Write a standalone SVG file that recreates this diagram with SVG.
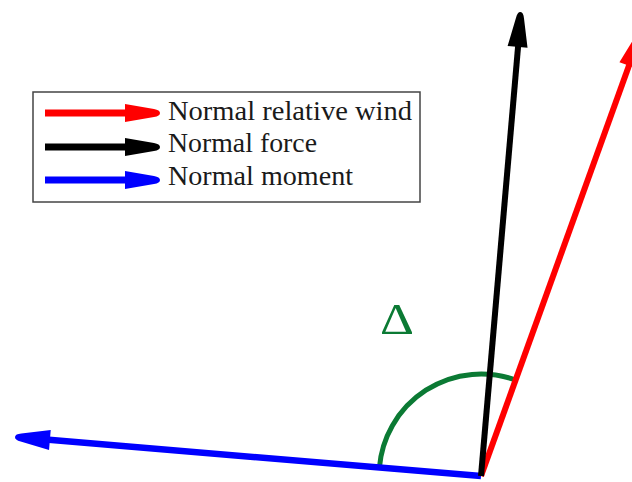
<svg xmlns="http://www.w3.org/2000/svg" width="632" height="482" viewBox="0 0 632 482">
  <style>
    .shaft { fill: none; stroke-linecap: butt; }
    .lbl { font-family: "Liberation Serif", "DejaVu Serif", serif; font-size: 28px; fill: #1a1a1a; }
    .delta { font-family: "Liberation Serif", "DejaVu Serif", serif; font-size: 45px; fill: #0b7a34; }
  </style>
  <defs>
    <path id="head" d="M -35,-10 L -6,-4 Q 0,-3 0,0 Q 0,3 -6,4 L -35,10 Z"/>
    <path id="lhead" d="M -35,-9 L -6,-4 Q 0,-3 0,0 Q 0,3 -6,4 L -35,9 Z"/>
  </defs>

  <g id="angle-arc">
    <path d="M379.4,467.5 A102,102 0 0 1 515.5,380.0" fill="none" stroke="#0b7a34" stroke-width="5"/>
  </g>
  <g id="angle-label">
    <text class="delta" x="380" y="334" textLength="34" lengthAdjust="spacingAndGlyphs">Δ</text>
  </g>

  <g id="connectors">
    <g id="normal-moment">
      <line class="shaft" x1="481" y1="476" x2="40" y2="439.1" stroke="#0000ff" stroke-width="6.5"/>
      <use href="#head" fill="#0000ff" transform="translate(15,437) rotate(184.78)"/>
    </g>
    <g id="normal-relative-wind">
      <line class="shaft" x1="481" y1="476" x2="631" y2="60" stroke="#ff0000" stroke-width="6"/>
      <use href="#head" fill="#ff0000" transform="translate(640.7,32.8) rotate(-70.2)"/>
    </g>
    <g id="normal-force">
      <line class="shaft" x1="481" y1="476" x2="518.9" y2="37" stroke="#000000" stroke-width="6"/>
      <use href="#head" fill="#000000" transform="translate(520.5,12) rotate(-85.2)"/>
    </g>
  </g>

  <g id="legend">
    <rect x="33" y="92" width="387" height="110" fill="#ffffff" stroke="#444444" stroke-width="1.5"/>
    <g id="legend-wind">
      <line class="shaft" x1="45" y1="113" x2="140" y2="113" stroke="#ff0000" stroke-width="7"/>
      <use href="#lhead" fill="#ff0000" transform="translate(160,113)"/>
      <text class="lbl" x="168" y="120" textLength="244" lengthAdjust="spacingAndGlyphs">Normal relative wind</text>
    </g>
    <g id="legend-force">
      <line class="shaft" x1="45" y1="147" x2="140" y2="147" stroke="#000000" stroke-width="7"/>
      <use href="#lhead" fill="#000000" transform="translate(160,147)"/>
      <text class="lbl" x="168" y="152" textLength="149" lengthAdjust="spacingAndGlyphs">Normal force</text>
    </g>
    <g id="legend-moment">
      <line class="shaft" x1="45" y1="180" x2="140" y2="180" stroke="#0000ff" stroke-width="7"/>
      <use href="#lhead" fill="#0000ff" transform="translate(160,180)"/>
      <text class="lbl" x="168" y="185" textLength="185" lengthAdjust="spacingAndGlyphs">Normal moment</text>
    </g>
  </g>
</svg>
